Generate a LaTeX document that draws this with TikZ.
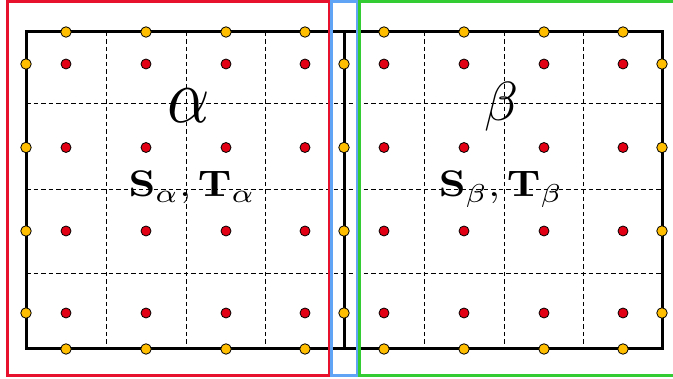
\documentclass[tikz,border=0pt]{standalone}
\definecolor{framered}{RGB}{232,17,45}
\definecolor{frameblue}{RGB}{96,165,245}
\definecolor{framegreen}{RGB}{51,204,51}
\definecolor{dotred}{RGB}{225,0,20}
\definecolor{dotyel}{RGB}{255,190,0}
\begin{document}
\begin{tikzpicture}[x=1pt,y=-1pt,
  redpt/.style={circle,draw=black,fill=dotred,line width=0.8pt,inner sep=0pt,minimum size=10pt},
  yelpt/.style={circle,draw=black,fill=dotyel,line width=0.8pt,inner sep=0pt,minimum size=10.5pt},
  gridline/.style={line width=0.9pt,dash pattern=on 4.5pt off 3pt},
  boxline/.style={line width=3pt},
  framebox/.style={line width=3pt},
  biglabel/.style={anchor=base,inner sep=0pt},
  setlabel/.style={anchor=base,inner sep=0pt,xscale=4.2,yscale=3.7}]
\useasboundingbox (0,0) rectangle (673,379);
% dashed grid
\foreach \x in {106,186,265,424,504,583} \draw[gridline] (\x,32) -- (\x,349);
\foreach \y in {103.7,189.3,273.3} \draw[gridline] (26,\y) -- (662,\y);
% solid boxes
\draw[boxline] (26,32) rectangle (662,349);
\draw[boxline] (344,32) -- (344,349);
% frames
\draw[framebox,framered] (7.5,1.5) rectangle (329,375.5);
\draw[framebox,frameblue] (331,1.5) rectangle (357,375.5);
\draw[framebox,framegreen] (680,1.5) -- (359,1.5) -- (359,375.5) -- (680,375.5);
% labels
\node[biglabel,xscale=6.6,yscale=7.8] (la) at (189,123) {$\alpha$};
\node[biglabel,scale=5.5] (lb) at (502,121) {$\beta$};
\node[setlabel] (sa) at (192,197) {$\mathbf{S}_\alpha,\mathbf{T}_\alpha$};
\node[setlabel] (sb) at (501,197) {$\mathbf{S}_\beta,\mathbf{T}_\beta$};
% interior dots
\foreach \x [count=\i] in {66,146,226,305,384,464,544,623}
  \foreach \y [count=\j] in {64,147.5,231,313}
    \node[redpt] (r\i-\j) at (\x,\y) {};
% boundary dots
\foreach \y [count=\j] in {64,147.5,231,313} {
  \node[yelpt] (yl\j) at (26,\y) {};
  \node[yelpt] (ym\j) at (344,\y) {};
  \node[yelpt] (yr\j) at (662,\y) {};
}
\foreach \x [count=\i] in {66,146,226,305,384,464,544,623} {
  \node[yelpt] (yt\i) at (\x,32) {};
  \node[yelpt] (yb\i) at (\x,349) {};
}
\end{tikzpicture}
\end{document}
